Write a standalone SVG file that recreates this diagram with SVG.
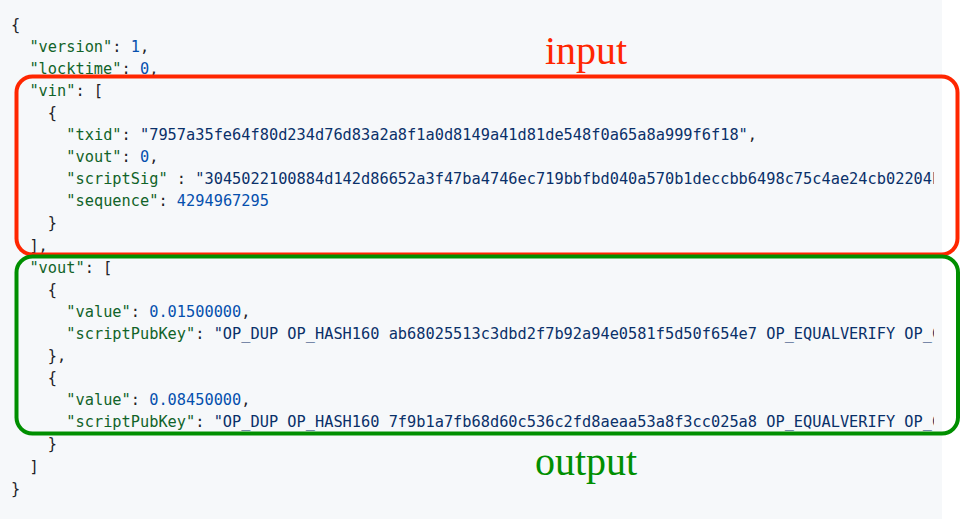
<svg xmlns="http://www.w3.org/2000/svg" width="969" height="519" viewBox="0 0 969 519">
<style>
.code{font-family:"DejaVu Sans Mono","Liberation Mono",monospace;font-size:15.3px;fill:#1f2328;white-space:pre}
.k{fill:#116329}
.s{fill:#0a3069}
.n{fill:#0550ae}
.box{fill:none;stroke-width:4}
.lbl{font-family:"Liberation Serif","Times New Roman",serif;font-size:40px}
</style>
<defs>
<clipPath id="clip"><rect x="0" y="0" width="934" height="519"/></clipPath>
</defs>
<rect x="0" y="0" width="969" height="519" fill="#ffffff"/>
<rect x="0" y="0" width="942" height="519" fill="#f6f8fa"/>
<g id="code" class="code" clip-path="url(#clip)" xml:space="preserve">
<text x="11" y="29.5">{</text>
<text x="29.4" y="51.6"><tspan class="k">"version"</tspan>: <tspan class="n">1</tspan>,</text>
<text x="29.4" y="73.7"><tspan class="k">"locktime"</tspan>: <tspan class="n">0</tspan>,</text>
<text x="29.4" y="95.8"><tspan class="k">"vin"</tspan>: [</text>
<text x="47.8" y="117.9">{</text>
<text x="66.3" y="140"><tspan class="k">"txid"</tspan>: <tspan class="s">"7957a35fe64f80d234d76d83a2a8f1a0d8149a41d81de548f0a65a8a999f6f18"</tspan>,</text>
<text x="66.3" y="162.1"><tspan class="k">"vout"</tspan>: <tspan class="n">0</tspan>,</text>
<text x="66.3" y="184.2"><tspan class="k">"scriptSig"</tspan> : <tspan class="s">"3045022100884d142d86652a3f47ba4746ec719bbfbd040a570b1deccbb6498c75c4ae24cb02204b</tspan></text>
<text x="66.3" y="206.3"><tspan class="k">"sequence"</tspan>: <tspan class="n">4294967295</tspan></text>
<text x="47.8" y="228.4">}</text>
<text x="29.4" y="250.5">],</text>
<text x="29.4" y="272.6"><tspan class="k">"vout"</tspan>: [</text>
<text x="47.8" y="294.7">{</text>
<text x="66.3" y="316.8"><tspan class="k">"value"</tspan>: <tspan class="n">0.01500000</tspan>,</text>
<text x="66.3" y="338.9"><tspan class="k">"scriptPubKey"</tspan>: <tspan class="s">"OP_DUP OP_HASH160 ab68025513c3dbd2f7b92a94e0581f5d50f654e7 OP_EQUALVERIFY OP_C</tspan></text>
<text x="47.8" y="361">},</text>
<text x="47.8" y="383.1">{</text>
<text x="66.3" y="405.2"><tspan class="k">"value"</tspan>: <tspan class="n">0.08450000</tspan>,</text>
<text x="66.3" y="427.3"><tspan class="k">"scriptPubKey"</tspan>: <tspan class="s">"OP_DUP OP_HASH160 7f9b1a7fb68d60c536c2fd8aeaa53a8f3cc025a8 OP_EQUALVERIFY OP_C</tspan></text>
<text x="47.8" y="449.4">}</text>
<text x="29.4" y="471.5">]</text>
<text x="11" y="493.6">}</text>
</g>
<g id="input-box">
<rect class="box" x="16.5" y="76.5" width="941" height="178" rx="16" ry="16" stroke="#ff2600"/>
<text class="lbl" x="545" y="64" fill="#ff2600">input</text>
</g>
<g id="output-box">
<rect class="box" x="16.5" y="256.5" width="941.5" height="177" rx="16" ry="16" stroke="#008f00"/>
<text class="lbl" x="535" y="475" fill="#008f00">output</text>
</g>
</svg>
